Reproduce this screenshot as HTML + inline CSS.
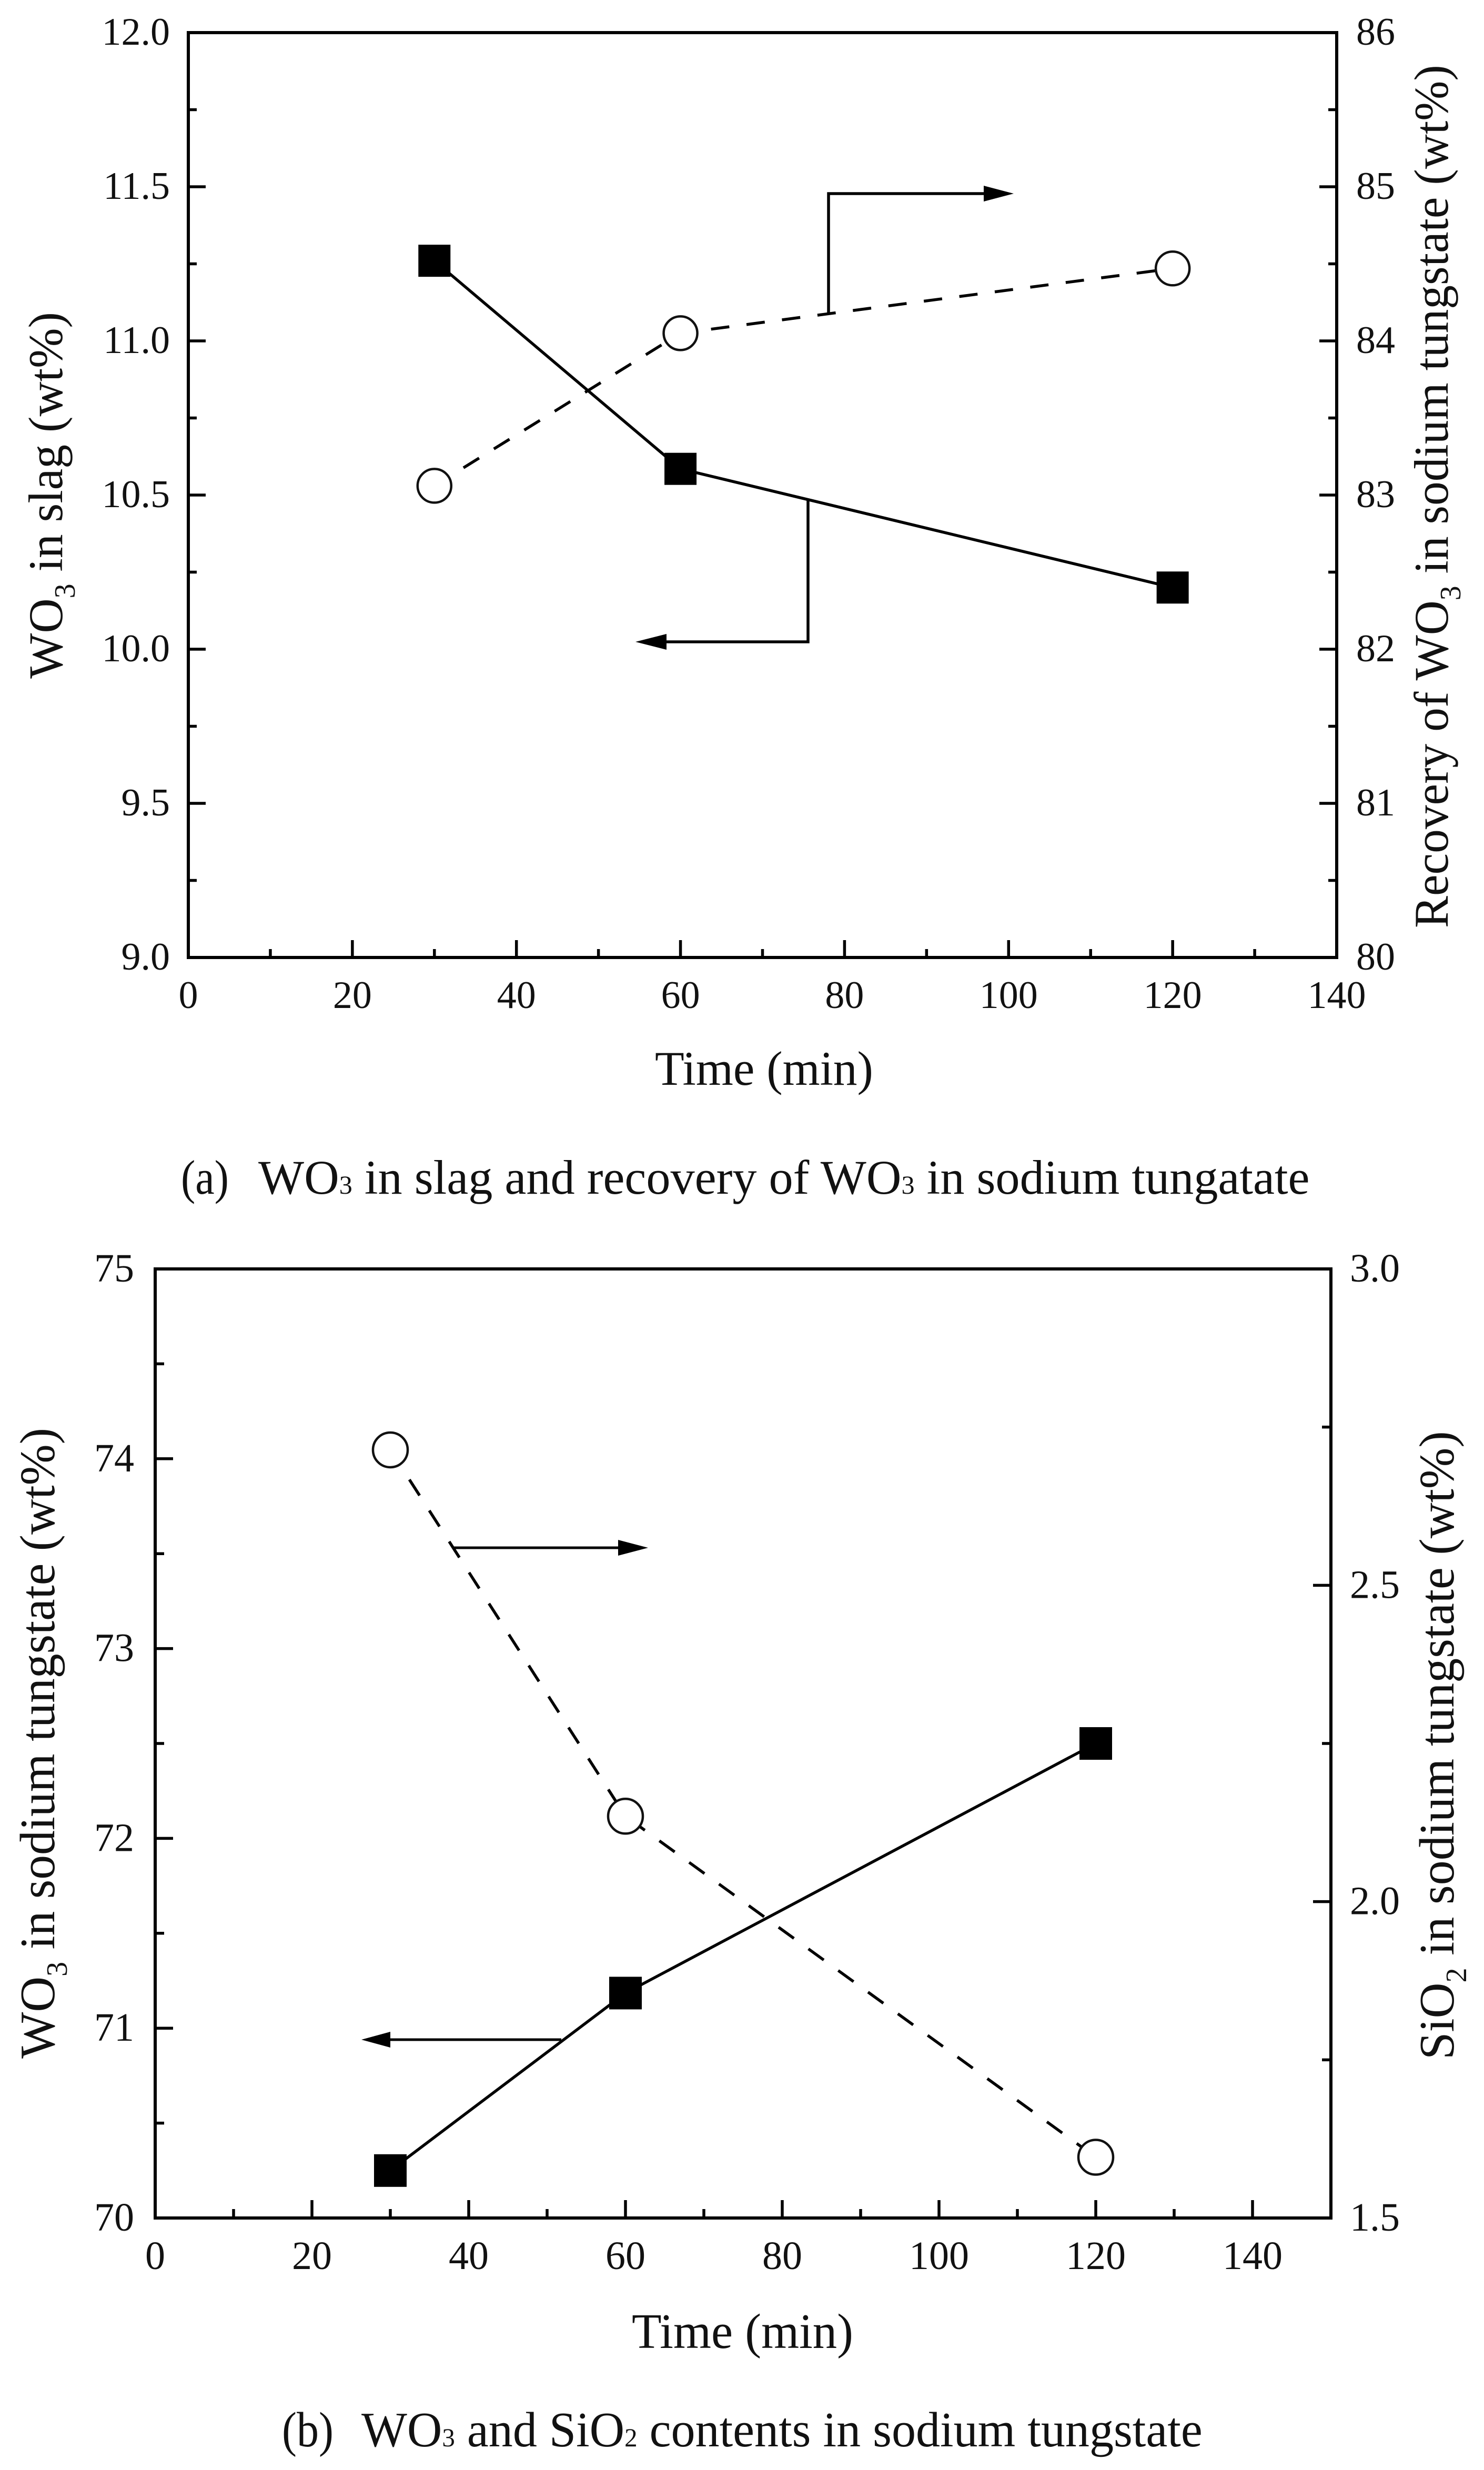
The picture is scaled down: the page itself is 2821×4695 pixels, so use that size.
<!DOCTYPE html>
<html lang="en">
<head>
<meta charset="utf-8">
<title>WO3 in slag and sodium tungstate vs time</title>
<style>
html,body{margin:0;padding:0;background:#fff;}
svg{display:block;}
text{font-family:"Liberation Serif",serif;fill:#111;}
</style>
</head>
<body>
<svg id="fig" xmlns="http://www.w3.org/2000/svg" width="2821" height="4695" viewBox="0 0 2821 4695">
<rect x="0" y="0" width="2821" height="4695" fill="#fff"/>
<g id="panel-a"></g>
<g id="panel-b"></g>

<!-- annotations: panel a -->
<g>
<path d="M1575 597V368H1875" fill="none" stroke="#000" stroke-width="5.5"/>
<polygon points="1927,368 1870,353 1870,383" fill="#000"/>
</g>
<g>
<path d="M1536 950V1220H1262" fill="none" stroke="#000" stroke-width="5.5"/>
<polygon points="1208,1220 1267,1205 1267,1235" fill="#000"/>
</g>
<!-- annotations: panel b -->
<g>
<path d="M862 2942H1180" fill="none" stroke="#000" stroke-width="5"/>
<polygon points="1232,2942 1175,2927 1175,2957" fill="#000"/>
</g>
<g>
<path d="M1067 3877H737" fill="none" stroke="#000" stroke-width="5"/>
<polygon points="687,3877 742,3862 742,3892" fill="#000"/>
</g>

<!-- titles -->
<text data-x="1245" data-y="2062" data-r="0" data-w="415" font-size="92">Time (min)</text>
<text data-x="118" data-y="1290" data-r="-90" data-w="697" font-size="92">WO<tspan dy="24" font-size="56">3</tspan><tspan dy="-24"> in slag (wt%)</tspan></text>
<text data-x="2752" data-y="1764" data-r="-90" data-w="1641" font-size="92">Recovery of WO<tspan dy="24" font-size="56">3</tspan><tspan dy="-24"> in sodium tungstate (wt%)</tspan></text>
<text data-x="344" data-y="2269" data-r="0" data-w="91" font-size="92">(a)</text>
<text data-x="491" data-y="2269" data-r="0" data-w="1999" font-size="92">WO<tspan font-size="50">3</tspan> in slag and recovery of WO<tspan font-size="50">3</tspan> in sodium tungatate</text>

<text data-x="1201" data-y="4463" data-r="0" data-w="421" font-size="94">Time (min)</text>
<text data-x="103" data-y="3913" data-r="-90" data-w="1199" font-size="94">WO<tspan dy="24" font-size="56">3</tspan><tspan dy="-24"> in sodium tungstate (wt%)</tspan></text>
<text data-x="2763" data-y="3915" data-r="-90" data-w="1195" font-size="94">SiO<tspan dy="24" font-size="56">2</tspan><tspan dy="-24"> in sodium tungstate (wt%)</tspan></text>
<text data-x="536" data-y="4650" data-r="0" data-w="98" font-size="94">(b)</text>
<text data-x="687" data-y="4650" data-r="0" data-w="1599" font-size="94">WO<tspan font-size="50">3</tspan> and SiO<tspan font-size="50">2</tspan> contents in sodium tungstate</text>
</svg>
<script>
// Panel (a) data
const aTime = [30, 60, 120];
const aWo3InSlag = [11.26, 10.585, 10.2];
const aRecovery = [83.06, 84.05, 84.47];
const aXMajor = [0, 20, 40, 60, 80, 100, 120, 140];
const aXMinor = [10, 30, 50, 70, 90, 110, 130];
const aLeftMajor = [9, 9.5, 10, 10.5, 11, 11.5, 12];
const aLeftLabels = ['9.0', '9.5', '10.0', '10.5', '11.0', '11.5', '12.0'];
const aLeftMinor = [9.25, 9.75, 10.25, 10.75, 11.25, 11.75];
const aRightMajor = [80, 81, 82, 83, 84, 85, 86];
const aRightLabels = ['80', '81', '82', '83', '84', '85', '86'];
const aRightMinor = [80.5, 81.5, 82.5, 83.5, 84.5, 85.5];

// Panel (b) data
const bTime = [30, 60, 120];
const bWo3 = [70.25, 71.185, 72.5];
const bSiO2 = [2.714, 2.135, 1.596];
const bXMajor = [0, 20, 40, 60, 80, 100, 120, 140];
const bXMinor = [10, 30, 50, 70, 90, 110, 130];
const bLeftMajor = [70, 71, 72, 73, 74, 75];
const bLeftLabels = ['70', '71', '72', '73', '74', '75'];
const bLeftMinor = [70.5, 71.5, 72.5, 73.5, 74.5];
const bRightMajor = [1.5, 2, 2.5, 3];
const bRightLabels = ['1.5', '2.0', '2.5', '3.0'];
const bRightMinor = [1.75, 2.25, 2.75];

const NS = 'http://www.w3.org/2000/svg';
function mk(parent, tag, attrs) {
  const el = document.createElementNS(NS, tag);
  for (const k in attrs) el.setAttribute(k, attrs[k]);
  parent.appendChild(el);
  return el;
}
function linScale(d0, d1, r0, r1) {
  return v => r0 + (v - d0) * (r1 - r0) / (d1 - d0);
}

function drawPanel(root, p) {
  const x = linScale(p.xDomain[0], p.xDomain[1], p.left, p.right);
  const yL = linScale(p.leftDomain[0], p.leftDomain[1], p.bottom, p.top);
  const yR = linScale(p.rightDomain[0], p.rightDomain[1], p.bottom, p.top);
  const tickStyle = {stroke: '#000', 'stroke-width': 5.5};

  const frame = mk(root, 'rect', {x: p.left, y: p.top, width: p.right - p.left, height: p.bottom - p.top, fill: 'none', stroke: '#000', 'stroke-width': 6});
  
  

  p.xMajor.forEach(v => {
    const t = mk(root, 'line', Object.assign({x1: x(v), x2: x(v), y1: p.bottom, y2: p.bottom - p.majorLen}, tickStyle));
    
    
    const l = mk(root, 'text', {x: x(v), y: p.xLabelY, 'text-anchor': 'middle', 'font-size': p.tickFont});
    l.textContent = String(v);
    
    
  });
  p.xMinor.forEach(v => {
    const t = mk(root, 'line', Object.assign({x1: x(v), x2: x(v), y1: p.bottom, y2: p.bottom - p.minorLen}, tickStyle));
    
    
  });
  p.leftMajor.forEach((v, i) => {
    const t = mk(root, 'line', Object.assign({x1: p.left, x2: p.left + p.majorLen, y1: yL(v), y2: yL(v)}, tickStyle));
    
    
    const l = mk(root, 'text', {x: p.leftLabelX, y: yL(v) + p.labelDy, 'text-anchor': 'end', 'font-size': p.tickFont});
    l.textContent = p.leftLabels[i];
    
    
  });
  p.leftMinor.forEach(v => {
    const t = mk(root, 'line', Object.assign({x1: p.left, x2: p.left + p.minorLen, y1: yL(v), y2: yL(v)}, tickStyle));
    
    
  });
  p.rightMajor.forEach((v, i) => {
    const t = mk(root, 'line', Object.assign({x1: p.right, x2: p.right - p.majorLen, y1: yR(v), y2: yR(v)}, tickStyle));
    
    
    const l = mk(root, 'text', {x: p.rightLabelX, y: yR(v) + p.labelDy, 'text-anchor': 'start', 'font-size': p.tickFont});
    l.textContent = p.rightLabels[i];
    
    
  });
  p.rightMinor.forEach(v => {
    const t = mk(root, 'line', Object.assign({x1: p.right, x2: p.right - p.minorLen, y1: yR(v), y2: yR(v)}, tickStyle));
    
    
  });

  const solidPts = p.time.map((t, i) => x(t) + ',' + yL(p.solid[i])).join(' ');
  const solid = mk(root, 'polyline', {points: solidPts, fill: 'none', stroke: '#000', 'stroke-width': 5.5});
  
  

  const dashPts = p.time.map((t, i) => x(t) + ',' + yR(p.dashed[i])).join(' ');
  const dashed = mk(root, 'polyline', {points: dashPts, fill: 'none', stroke: '#000', 'stroke-width': 5.5, 'stroke-dasharray': p.dash, 'stroke-dashoffset': 3});
  
  

  p.time.forEach((t, i) => {
    const s = mk(root, 'rect', {x: x(t) - p.sq / 2, y: yL(p.solid[i]) - p.sq / 2, width: p.sq, height: p.sq, fill: '#000'});
    
    
    const c = mk(root, 'circle', {cx: x(t), cy: yR(p.dashed[i]), r: p.r, fill: '#fff', stroke: '#111', 'stroke-width': 4.5});
    
    
  });
}

drawPanel(document.getElementById('panel-a'), {
  left: 358, right: 2541, top: 62, bottom: 1820,
  xDomain: [0, 140], leftDomain: [9, 12], rightDomain: [80, 86],
  majorLen: 33, minorLen: 16, tickFont: 74, xLabelY: 1916, labelDy: 23,
  leftLabelX: 323, rightLabelX: 2578, sq: 61, r: 32, dash: '35 33',
  time: aTime, solid: aWo3InSlag, dashed: aRecovery,
  xMajor: aXMajor, xMinor: aXMinor,
  leftMajor: aLeftMajor, leftLabels: aLeftLabels, leftMinor: aLeftMinor,
  rightMajor: aRightMajor, rightLabels: aRightLabels, rightMinor: aRightMinor
});
drawPanel(document.getElementById('panel-b'), {
  left: 295, right: 2530, top: 2412, bottom: 4216,
  xDomain: [0, 150], leftDomain: [70, 75], rightDomain: [1.5, 3],
  majorLen: 34, minorLen: 17, tickFont: 76, xLabelY: 4313, labelDy: 24,
  leftLabelX: 255, rightLabelX: 2566, sq: 62, r: 33, dash: '36 34',
  time: bTime, solid: bWo3, dashed: bSiO2,
  xMajor: bXMajor, xMinor: bXMinor,
  leftMajor: bLeftMajor, leftLabels: bLeftLabels, leftMinor: bLeftMinor,
  rightMajor: bRightMajor, rightLabels: bRightLabels, rightMinor: bRightMinor
});

// Fit titles and captions to their measured extents
document.querySelectorAll('text[data-w]').forEach(t => {
  const w = t.getBBox().width;
  const k = parseFloat(t.getAttribute('data-w')) / w;
  t.setAttribute('transform', 'translate(' + t.getAttribute('data-x') + ' ' + t.getAttribute('data-y') + ') rotate(' + t.getAttribute('data-r') + ') scale(' + k + ' 1)');
});
</script>
</body>
</html>
